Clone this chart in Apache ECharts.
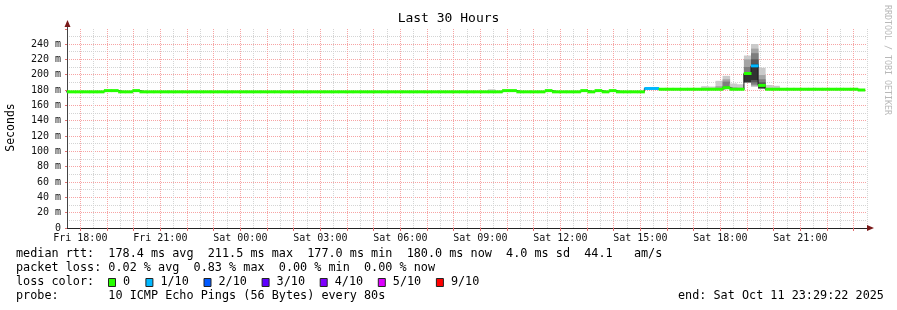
<!DOCTYPE html>
<html><head><meta charset="utf-8">
<script src="https://cdn.jsdelivr.net/npm/echarts@6/dist/echarts.min.js"></script>
<style>html,body{margin:0;padding:0;background:#fff}#c{width:897px;height:310px}</style>
</head><body><div id="c"></div>
<script>
// ---------- data ----------
const chartTitle = 'Last 30 Hours';
const yAxisName = 'Seconds';
const watermark = 'RRDTOOL / TOBI OETIKER';
const xStartHour = 17.5;   // hours since Fri 00:00
const xEndHour = 47.5;
const yMaxMs = 259.57;
const xTickHours = [18, 21, 24, 27, 30, 33, 36, 39, 42, 45];
const xTickLabels = ['Fri 18:00', 'Fri 21:00', 'Sat 00:00', 'Sat 03:00', 'Sat 06:00', 'Sat 09:00', 'Sat 12:00', 'Sat 15:00', 'Sat 18:00', 'Sat 21:00'];
const stepStartHour = 17.284;   // start of first 16-minute step
const stepHours = 16 / 60;
const medianMs = [
  177.6,177.6,177.6,177.6,177.6,177.6,179.2,179.2,177.6,177.6,
  179.2,177.6,177.6,177.6,177.6,177.6,177.6,177.6,177.6,177.6,
  177.6,177.6,177.6,177.6,177.6,177.6,177.6,177.6,177.6,177.6,
  177.6,177.6,177.6,177.6,177.6,177.6,177.6,177.6,177.6,177.6,
  177.6,177.6,177.6,177.6,177.6,177.6,177.6,177.6,177.6,177.6,
  177.6,177.6,177.6,177.6,177.6,177.6,177.6,177.6,177.6,177.6,
  177.6,177.6,179.2,179.2,177.6,177.6,177.6,177.6,179.2,177.6,
  177.6,177.6,177.6,179.2,177.6,179.2,177.6,179.2,177.6,177.6,
  177.6,177.6,182.0,182.0,181.0,181.0,181.0,181.0,181.0,181.0,
  181.0,181.0,181.0,183.0,181.0,181.0,201.5,211.5,186.0,181.0,
  181.0,181.0,181.0,181.0,181.0,181.0,181.0,181.0,181.0,181.0,
  181.0,181.0,180.0
];
const lossSteps = [82, 83, 97];
const lossTenths = [1, 1, 1];
const smokeSteps = [60, 90, 91, 92, 93, 94, 95, 96, 97, 98, 99, 100];
const smokePingsMs = [
  [177.3,177.4,177.5,177.5,177.6,177.6,177.7,177.8,178.5,181.0],
  [180.5,180.7,180.8,180.9,181.0,181.0,181.1,181.3,182.0,185.0],
  [180.5,180.7,180.8,180.9,181.0,181.0,181.1,181.3,182.0,184.5],
  [180.6,180.8,180.9,181.0,181.0,181.1,181.3,182.0,185.0,192.0],
  [182.0,182.3,182.6,182.8,183.0,183.2,184.5,191.0,194.0,198.5],
  [180.6,180.8,180.9,181.0,181.0,181.1,181.3,182.0,183.5,188.5],
  [180.6,180.8,180.9,181.0,181.0,181.1,181.3,182.0,183.0,187.5],
  [189.0,189.5,190.0,190.0,190.5,201.5,203.0,210.0,220.0,225.0],
  [184.0,185.5,187.0,190.0,193.0,214.0,220.0,228.0,234.0,240.0],
  [181.2,181.5,181.8,182.2,182.6,186.5,190.0,194.0,199.5,209.0],
  [180.5,180.7,180.8,180.9,181.0,181.0,181.1,181.3,182.0,186.5],
  [180.5,180.7,180.8,180.9,181.0,181.0,181.1,181.3,182.0,185.5]
];
const lossLegendTenths = [0, 1, 2, 3, 4, 5, 9];
const lossLegendLabels = ['0', '1/10', '2/10', '3/10', '4/10', '5/10', '9/10'];
const lossLegendColors = ['#26ff00', '#00b8ff', '#0059ff', '#5e00ff', '#7e00ff', '#dd00ff', '#ff0000'];
const statsLines = [
  'median rtt:  178.4 ms avg  211.5 ms max  177.0 ms min  180.0 ms now  4.0 ms sd  44.1   am/s',
  'packet loss: 0.02 % avg  0.83 % max  0.00 % min  0.00 % now'
];
const lossColorLabel = 'loss color:';
const probeLine = 'probe:       10 ICMP Echo Pings (56 Bytes) every 80s';
const endLine = 'end: Sat Oct 11 23:29:22 2025';

// ---------- styles ----------
const MONO = '"DejaVu Sans Mono", "Liberation Mono", monospace';
const smokeShades = ['#cacaca', '#a4a4a4', '#7e7e7e', '#585858', '#323232'];
const gridMajor = '#f7a4a4';
const gridMinor = '#d4d4d4';

function lossColor(t) {
  const k = lossLegendTenths.indexOf(t);
  return k >= 0 ? lossLegendColors[k] : '#ff0000';
}
function lossAt(i) {
  const k = lossSteps.indexOf(i);
  return k >= 0 ? lossTenths[k] : 0;
}

const medianData = medianMs.map((v, i) => {
  const t0 = stepStartHour + i * stepHours;
  return [t0, t0 + stepHours, v, lossAt(i)];
});
const stepLineData = medianMs.map((v, i) => [stepStartHour + i * stepHours, v]);
stepLineData.push([stepStartHour + medianMs.length * stepHours, medianMs[medianMs.length - 1]]);
const smokeData = smokeSteps.map((s, i) => {
  const t0 = stepStartHour + s * stepHours;
  return [t0, t0 + stepHours].concat(smokePingsMs[i]);
});

const chart = echarts.init(document.getElementById('c'), null, { renderer: 'canvas' });

// legend graphics
const graphics = [];
const textStyle = (text, x, y, extra) => Object.assign({
  type: 'text', x: x, y: y,
  style: { text: text, font: '11.8px ' + MONO, fill: '#000', verticalAlign: 'middle', align: 'left' }
}, extra || {});
graphics.push({ type: 'text', x: 448.5, y: 19, style: { text: chartTitle, font: '13px ' + MONO, fill: '#000', align: 'center', verticalAlign: 'middle' } });
graphics.push({ type: 'text', x: 11, y: 127.5, rotation: Math.PI / 2, style: { text: yAxisName, font: '11.5px ' + MONO, fill: '#000', align: 'center', verticalAlign: 'middle' } });
graphics.push({ type: 'text', x: 887, y: 60, rotation: -Math.PI / 2, style: { text: watermark, font: '8.3px ' + MONO, fill: '#b8b8b8', align: 'center', verticalAlign: 'middle' } });
graphics.push(textStyle(statsLines[0], 16, 254));
graphics.push(textStyle(statsLines[1], 16, 268));
graphics.push(textStyle(lossColorLabel, 16, 282));
let lx = 108;
lossLegendLabels.forEach((lab, i) => {
  graphics.push({ type: 'rect', shape: { x: lx + 0.5, y: 278.5, width: 7, height: 8 }, style: { fill: lossLegendColors[i], stroke: '#222', lineWidth: 1 } });
  graphics.push(textStyle(lab, lx + 15, 282));
  lx += 15 + lab.length * 6.9 + 15.5;
});
graphics.push(textStyle(probeLine, 16, 296));
graphics.push(textStyle(endLine, 678, 296));
// axis arrows
graphics.push({ type: 'line', shape: { x1: 67.5, y1: 29, x2: 67.5, y2: 25 }, style: { stroke: '#444', lineWidth: 1 }, z: 10 });
graphics.push({ type: 'polygon', shape: { points: [[64.5, 27], [70.5, 27], [67.5, 20]] }, style: { fill: '#7a1a1a' }, z: 10 });
graphics.push({ type: 'polygon', shape: { points: [[867, 225], [867, 231], [874, 228]] }, style: { fill: '#7a1a1a' }, z: 10 });

const option = {
  animation: false,
  backgroundColor: '#fff',
  grid: { left: 67, right: 30, top: 29, height: 199 },
  xAxis: [
    {
      // grid axis: major ticks every hour from the half hour (grey), minor on the hour (red)
      type: 'value', min: xStartHour, max: xEndHour, interval: 1,
      axisLine: { show: true, onZero: false, lineStyle: { color: '#222', width: 1 } },
      axisTick: { show: false },
      minorTick: { show: true, splitNumber: 2, length: 3, lineStyle: { color: '#e07070' } },
      axisLabel: { show: false },
      splitLine: { show: true, showMinLine: false, lineStyle: { color: gridMinor, type: [1, 1], width: 1 } },
      minorSplitLine: { show: true, lineStyle: { color: gridMajor, type: [1, 1], width: 1 } }
    },
    {
      // label axis
      type: 'value', gridIndex: 0, position: 'bottom', min: xStartHour, max: xEndHour, interval: 0.5,
      axisLine: { show: false }, axisTick: { show: false }, splitLine: { show: false },
      axisLabel: {
        margin: 5, fontFamily: MONO, fontSize: 10, color: '#111',
        formatter: v => { const k = xTickHours.findIndex(h => Math.abs(h - v) < 1e-6); return k >= 0 ? xTickLabels[k] : ''; }
      }
    }
  ],
  yAxis: {
    type: 'value', min: 0, max: yMaxMs, interval: 20,
    axisLine: { show: true, lineStyle: { color: '#444', width: 1 } },
    axisTick: { show: true, length: 2, lineStyle: { color: '#e07070' } },
    minorTick: { show: false, splitNumber: 2 },
    axisLabel: {
      margin: 6, fontFamily: MONO, fontSize: 10, color: '#111',
      formatter: v => (Math.abs(v % 20) < 1e-6 ? (v === 0 ? '0' : v + ' m') : '')
    },
    splitLine: { show: true, showMaxLine: false, lineStyle: { color: gridMajor, type: [1, 1], width: 1 } },
    minorSplitLine: { show: true, lineStyle: { color: gridMinor, type: [1, 1], width: 1 } }
  },
  graphic: graphics,
  series: [
    {
      type: 'custom', name: 'smoke', clip: true, z: 2,
      encode: { x: [0, 1], y: [2, 3, 4, 5, 6, 7, 8, 9, 10, 11] },
      data: smokeData,
      renderItem: (params, api) => {
        const t0 = api.value(0), t1 = api.value(1);
        const p = [];
        for (let j = 0; j < 10; j++) p.push(api.value(2 + j));
        const children = [];
        for (let b = 0; b < 5; b++) {
          const a = api.coord([t0, p[9 - b]]);
          const c = api.coord([t1, p[b]]);
          children.push({ type: 'rect', shape: { x: a[0], y: a[1], width: c[0] - a[0] + 0.4, height: Math.max(c[1] - a[1], 0.5) }, style: { fill: smokeShades[b] } });
        }
        return { type: 'group', children: children };
      }
    },
    {
      type: 'line', name: 'median step', step: 'end', z: 3,
      data: stepLineData, showSymbol: false, symbol: 'none',
      lineStyle: { color: '#1a1a1a', width: 1 }
    },
    {
      type: 'custom', name: 'median', clip: true, z: 4,
      encode: { x: [0, 1], y: 2 },
      data: medianData,
      renderItem: (params, api) => {
        const a = api.coord([api.value(0), api.value(2)]);
        const c = api.coord([api.value(1), api.value(2)]);
        return { type: 'rect', shape: { x: a[0], y: a[1] - 1.5, width: c[0] - a[0] + 0.5, height: 3 }, style: { fill: lossColor(api.value(3)) } };
      }
    }
  ]
};
chart.setOption(option);
</script>
</body></html>
